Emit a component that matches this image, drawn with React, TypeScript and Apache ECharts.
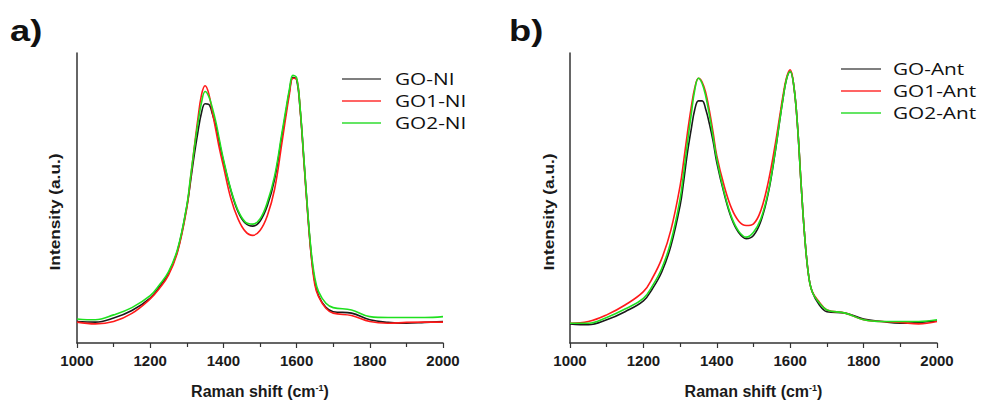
import React, { useEffect, useRef } from "react";
import * as echarts from "echarts";

// Raman shift sample positions (cm^-1)
const X = [1000, 1050, 1100, 1150, 1200, 1225, 1250, 1275, 1300, 1310, 1320, 1330, 1340, 1350, 1360, 1370, 1380, 1390, 1400, 1420, 1440, 1460, 1480, 1500, 1520, 1540, 1560, 1570, 1580, 1590, 1600, 1610, 1620, 1630, 1640, 1650, 1660, 1680, 1700, 1750, 1800, 1850, 1900, 1950, 2000];

// Panel a) intensities (a.u., 0-100 scale)
const aGO = [7.4, 7.2, 8.6, 11.2, 15.5, 19.3, 24, 32, 47, 55.5, 64.5, 72.5, 79.3, 82.5, 82.3, 79, 74.5, 68.5, 62.8, 52.8, 45.3, 41.3, 40.3, 42.0, 47.3, 56.5, 71.5, 79, 86.5, 91.5, 90.8, 80, 63, 45.5, 30.5, 21, 16.3, 12.3, 10.8, 10.3, 8.0, 7.1, 6.8, 7.1, 7.4];
const aGO1 = [7.2, 6.6, 7.4, 10.2, 15.2, 18.8, 23.4, 31.5, 46.5, 56.5, 67, 77, 85.5, 88.7, 86, 79.5, 73, 66.5, 61, 50, 42.8, 38.5, 37.1, 38.8, 43.9, 53.1, 69.1, 77.5, 85.5, 91.3, 91.0, 80, 62.5, 45, 30, 20, 16, 12, 10.3, 9.5, 7.4, 6.8, 7.1, 7.2, 7.2];
const aGO2 = [8.3, 8.0, 9.7, 12.2, 16.3, 20, 24.5, 32.5, 47.4, 57, 66.8, 75.5, 82.8, 86.7, 85, 81, 75.9, 69.5, 63.4, 53.1, 45.7, 41.7, 41.0, 42.8, 48.5, 57.6, 72.5, 80, 87.3, 92.3, 91.5, 80.5, 63.4, 45.9, 31.4, 22.3, 17.7, 13.7, 12.2, 11.4, 9.1, 8.8, 8.8, 8.8, 9.1];

// Panel b) intensities (a.u., 0-100 scale)
const bGO = [6.6, 6.3, 8.0, 10.8, 14.5, 18.8, 24.5, 33.5, 47.4, 56, 65.6, 73.5, 80.5, 83.5, 83.5, 80.5, 75.5, 69.5, 62.2, 51.5, 43, 38, 36.0, 37.1, 42, 51.5, 66.5, 75.5, 83.9, 91, 93.6, 88.5, 74.8, 54.2, 36, 23.4, 17.7, 13, 10.8, 10.3, 8.3, 7.4, 6.8, 7.1, 7.6];
const bGO1 = [6.8, 7.4, 9.7, 13.1, 17.7, 22.5, 29.1, 39, 54.2, 63, 72.5, 81, 88, 91.3, 90, 86.2, 80, 72.5, 64.5, 54.2, 46.5, 42, 40.5, 41.1, 45.7, 55.4, 69.1, 77, 85, 91.5, 94.2, 88.5, 74.8, 54.2, 36, 23.4, 17.7, 14, 11.4, 10.3, 8.0, 7.4, 7.1, 6.6, 7.4];
const bGO2 = [6.8, 6.8, 8.8, 11.7, 15.4, 19.8, 25.7, 35, 49.7, 59, 69.1, 78.5, 87.3, 91.3, 89.5, 85, 78.5, 71, 63.4, 52, 43.5, 38.5, 36.5, 38.2, 42.8, 52, 66.8, 75.5, 83.9, 91, 93.6, 88.5, 74.8, 54.2, 36, 23.4, 17.7, 13.7, 11.4, 10.3, 8.0, 7.4, 7.4, 7.4, 8.0];

const namesA = ["GO-NI", "GO1-NI", "GO2-NI"];
const namesB = ["GO-Ant", "GO1-Ant", "GO2-Ant"];
const COLORS = ["#1a1a1a", "#ff1a1a", "#1fe01f"];
const LEGEND_COLORS = ["#555555", "#ff3030", "#30dd30"];

const FONT = "'Liberation Sans', Arial, sans-serif";

export default function App() {
  const ref = useRef<HTMLDivElement>(null);

  useEffect(() => {
    document.body.style.margin = "0";
    const chart = echarts.init(ref.current as HTMLDivElement, null, {
      renderer: "svg",
      width: 982,
      height: 404,
    });

    const pairs = (ys: number[]) => X.map((x, i) => [x, ys[i]]);

    const makeX = (gridIndex: number) => ({
      type: "value",
      gridIndex,
      min: 1000,
      max: 2000,
      interval: 200,
      axisLine: { show: true, onZero: false, lineStyle: { color: "#333", width: 1.5 } },
      axisTick: { show: true, length: 5, lineStyle: { color: "#333", width: 1.2 } },
      minorTick: { show: true, splitNumber: 2, length: 4, lineStyle: { color: "#333", width: 1.2 } },
      splitLine: { show: false },
      minorSplitLine: { show: false },
      axisLabel: {
        margin: 10,
        fontSize: 15,
        fontWeight: "bold",
        color: "#1a1a1a",
        fontFamily: FONT,
        formatter: (v: number) => String(v),
      },
      name: "Raman shift (cm{sup|-1})",
      nameLocation: "middle",
      nameGap: 40,
      nameTextStyle: {
        fontSize: 16,
        fontWeight: "bold",
        color: "#1a1a1a",
        fontFamily: FONT,
        rich: { sup: { fontSize: 9, fontWeight: "bold", color: "#1a1a1a", fontFamily: FONT, verticalAlign: "top", lineHeight: 10 } },
      },
    });

    const makeY = (gridIndex: number) => ({
      type: "value",
      gridIndex,
      min: 0,
      max: 100,
      axisLine: { show: true, onZero: false, lineStyle: { color: "#333", width: 1.5 } },
      axisTick: { show: false },
      axisLabel: { show: false },
      splitLine: { show: false },
    });

    const makeSeries = (names: string[], data: number[][], idx: number) =>
      names.map((n, i) => ({
        name: n,
        type: "line",
        xAxisIndex: idx,
        yAxisIndex: idx,
        data: pairs(data[i]),
        showSymbol: false,
        symbol: "none",
        smooth: 0.4,
        lineStyle: { color: COLORS[i], width: 1.6 },
        z: 2 + i,
      }));

    const legendGraphics = (names: string[], x1: number, x2: number, tx: number, y0: number) =>
      names.flatMap((n, i) => [
        {
          type: "line",
          shape: { x1, y1: y0 + 22 * i, x2, y2: y0 + 22 * i },
          style: { stroke: LEGEND_COLORS[i], lineWidth: 1.6 },
        },
        {
          type: "text",
          x: tx,
          y: y0 + 22 * i,
          scaleX: 1.3,
          style: {
            text: n,
            fill: "#111",
            fontSize: 16,
            fontFamily: "'Open Sans', sans-serif",
            verticalAlign: "middle",
            align: "left",
          },
        },
      ]);

    const option = {
      animation: false,
      backgroundColor: "#ffffff",
      grid: [
        { left: 77, top: 53, width: 366, height: 292 },
        { left: 570, top: 53, width: 367, height: 292 },
      ],
      xAxis: [makeX(0), makeX(1)],
      yAxis: [makeY(0), makeY(1)],
      series: [
        ...makeSeries(namesA, [aGO, aGO1, aGO2], 0),
        ...makeSeries(namesB, [bGO, bGO1, bGO2], 1),
      ],
      graphic: [
        {
          type: "text",
          x: 10,
          y: 31,
          scaleX: 1.25,
          style: { text: "a)", fontSize: 29, fontWeight: "bold", fontFamily: FONT, fill: "#111", verticalAlign: "middle" },
        },
        {
          type: "text",
          x: 509,
          y: 31,
          scaleX: 1.25,
          style: { text: "b)", fontSize: 29, fontWeight: "bold", fontFamily: FONT, fill: "#111", verticalAlign: "middle" },
        },
        {
          type: "text",
          x: 54,
          y: 212,
          rotation: Math.PI / 2,
          scaleX: 1.15,
          style: { text: "Intensity (a.u.)", fontSize: 15, fontWeight: "bold", fontFamily: FONT, fill: "#1a1a1a", align: "center", verticalAlign: "middle" },
        },
        {
          type: "text",
          x: 548,
          y: 212,
          rotation: Math.PI / 2,
          scaleX: 1.15,
          style: { text: "Intensity (a.u.)", fontSize: 15, fontWeight: "bold", fontFamily: FONT, fill: "#1a1a1a", align: "center", verticalAlign: "middle" },
        },
        ...legendGraphics(namesA, 342, 381, 395, 79),
        ...legendGraphics(namesB, 841, 881, 893, 69),
      ],
    };

    chart.setOption(option as any);
    return () => chart.dispose();
  }, []);

  return <div ref={ref} style={{ width: 982, height: 404, background: "#fff" }} />;
}
